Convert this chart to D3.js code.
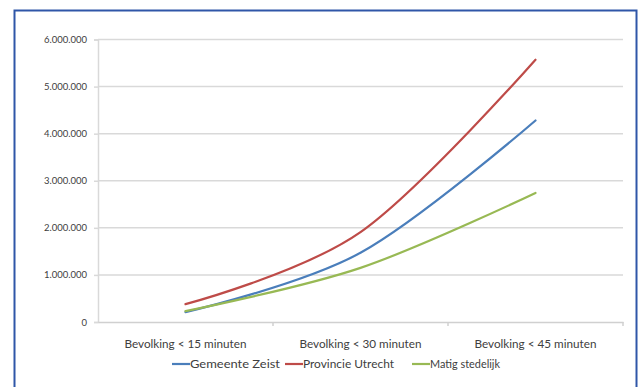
<!DOCTYPE html>
<html>
<head>
<meta charset="utf-8">
<script src="https://cdn.jsdelivr.net/npm/d3@7"></script>
<style>
  html, body { margin: 0; padding: 0; background: #fff; }
  svg { display: block; }
  text { font-family: Lato, "Open Sans", sans-serif; }
</style>
</head>
<body>
<script>
// Reachable population by travel time
const categories = ["Bevolking < 15 minuten", "Bevolking < 30 minuten", "Bevolking < 45 minuten"];
const seriesNames = ["Gemeente Zeist", "Provincie Utrecht", "Matig stedelijk"];
const seriesColors = ["#4a7ebb", "#be4b48", "#98b954"];
const zeist = [210000, 1470000, 4280000];
const utrecht = [380000, 1910000, 5570000];
const matig = [230000, 1150000, 2740000];
const yTicks = [0, 1000000, 2000000, 3000000, 4000000, 5000000, 6000000];

(function () {
  const series = [
    { name: seriesNames[0], color: seriesColors[0], values: zeist },
    { name: seriesNames[1], color: seriesColors[1], values: utrecht },
    { name: seriesNames[2], color: seriesColors[2], values: matig }
  ];

  const W = 642, H = 387;
  const svg = d3.select("body").append("svg").attr("width", W).attr("height", H);

  // outer frame
  svg.append("rect")
    .attr("x", 14.5).attr("y", 10.5)
    .attr("width", 622).attr("height", 390)
    .attr("fill", "#fff")
    .attr("stroke", "#2f56a8").attr("stroke-width", 2);

  const plotLeft = 98, plotRight = 623, plotTop = 39.5, plotBottom = 322;

  const x = d3.scaleBand().domain(categories).range([plotLeft, plotRight]).padding(0);
  const y = d3.scaleLinear().domain([0, 6000000]).range([plotBottom, plotTop]);

  const fmt = v => d3.format(",")(v).replace(/,/g, ".");

  // gridlines
  svg.append("g")
    .selectAll("line")
    .data(yTicks.filter(d => d > 0))
    .join("line")
    .attr("x1", plotLeft).attr("x2", plotRight)
    .attr("y1", d => y(d)).attr("y2", d => y(d))
    .attr("stroke", "#d9d9d9").attr("stroke-width", 1.5);

  // y axis
  const yAxis = svg.append("g")
    .attr("transform", `translate(${plotLeft},0)`)
    .call(d3.axisLeft(y).tickValues(yTicks).tickFormat(fmt).tickSize(4).tickPadding(7));
  yAxis.select(".domain").attr("stroke", "#d9d9d9").attr("stroke-width", 1.5);
  yAxis.selectAll(".tick line").attr("stroke", "#d9d9d9").attr("stroke-width", 1.5);
  yAxis.selectAll(".tick text")
    .attr("fill", "#404040").attr("font-size", 9.5)
    .attr("font-family", "Lato, 'Open Sans', sans-serif");

  // x axis
  const xAxis = svg.append("g")
    .attr("transform", `translate(0,${plotBottom})`)
    .call(d3.axisBottom(x).tickSize(0).tickPadding(18));
  xAxis.select(".domain").attr("stroke", "#d0d0d0").attr("stroke-width", 1.5);
  xAxis.selectAll(".tick text")
    .attr("fill", "#404040").attr("font-size", 11.5)
    .attr("font-family", "Lato, 'Open Sans', sans-serif")
    .attr("textLength", 122).attr("lengthAdjust", "spacingAndGlyphs");

  // category boundary ticks
  svg.append("g")
    .selectAll("line")
    .data(categories)
    .join("line")
    .attr("x1", d => x(d) + x.bandwidth()).attr("x2", d => x(d) + x.bandwidth())
    .attr("y1", plotBottom).attr("y2", plotBottom + 4)
    .attr("stroke", "#d0d0d0").attr("stroke-width", 1.5);

  // smoothed lines
  const line = d3.line()
    .x((d, i) => x(categories[i]) + x.bandwidth() / 2)
    .y(d => y(d))
    .curve(d3.curveCardinal.tension(0));

  svg.append("g")
    .selectAll("path")
    .data(series)
    .join("path")
    .attr("d", s => line(s.values))
    .attr("fill", "none")
    .attr("stroke", s => s.color)
    .attr("stroke-width", 2.2)
    .attr("stroke-linecap", "round");

  // legend
  const legendX = [172, 285, 412];
  const legendTextW = [90, 91, 70];
  const legend = svg.append("g").attr("transform", "translate(0,364)");
  const items = legend.selectAll("g").data(series).join("g")
    .attr("transform", (d, i) => `translate(${legendX[i]},0)`);
  items.append("line")
    .attr("x1", 0).attr("x2", 18).attr("y1", 0).attr("y2", 0)
    .attr("stroke", d => d.color).attr("stroke-width", 2.2);
  items.append("text")
    .attr("x", 18).attr("y", 4)
    .attr("font-size", 11.5).attr("fill", "#404040")
    .attr("textLength", (d, i) => legendTextW[i]).attr("lengthAdjust", "spacingAndGlyphs")
    .text(d => d.name);
})();
</script>
</body>
</html>
